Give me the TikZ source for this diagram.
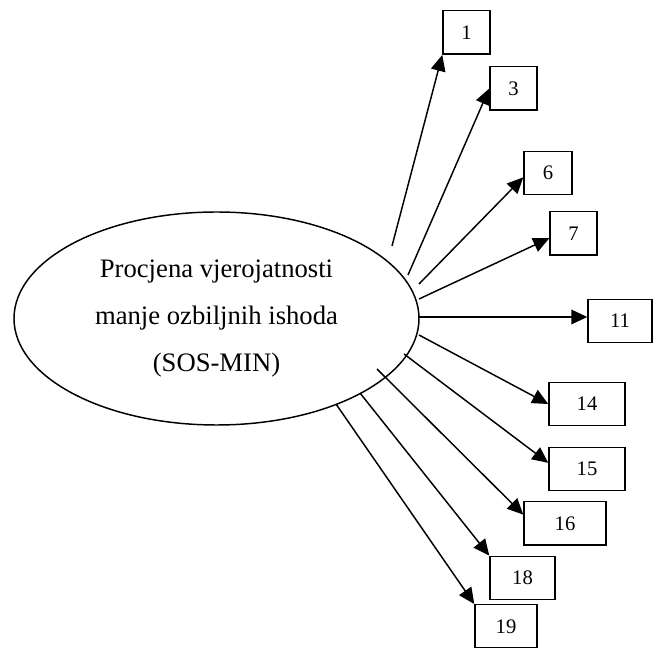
\documentclass[tikz,border=0pt]{standalone}
\usepackage{fontspec}
\setmainfont{Liberation Serif}
\usetikzlibrary{arrows.meta,shapes.geometric}

\tikzset{every picture/.style={line width=1.1pt}}
\tikzset{
  itembox/.style={draw, rectangle, inner sep=0pt, minimum height=32.6pt, font=\fontsize{15.5}{18}\selectfont},
  factor/.style={draw, ellipse, inner sep=0pt, minimum width=303.75pt, minimum height=159.75pt, align=center, font=\fontsize{20}{35.25}\selectfont},
  loading/.style={-{Triangle[length=12pt,width=11pt]}}
}

\begin{document}
\begin{tikzpicture}[x=0.75pt,y=0.75pt,yscale=-1,xscale=1]
\useasboundingbox (0,0) rectangle (654,648);

%Shape: Ellipse
\node [factor] (sosmin) at (216.5,318.5) {Procjena vjerojatnosti\\manje ozbiljnih ishoda\\(SOS-MIN)};

%Shape: Rectangles
\node [itembox, minimum width=35.25pt] (b1) at (466.5,32.5) {1};
\node [itembox, minimum width=35.25pt] (b3) at (513.5,88.5) {3};
\node [itembox, minimum width=36pt] (b6) at (548,173) {6};
\node [itembox, minimum width=35.25pt] (b7) at (573.5,233.5) {7};
\node [itembox, minimum width=48pt] (b11) at (620,321) {11};
\node [itembox, minimum width=57pt] (b14) at (587,404) {14};
\node [itembox, minimum width=57pt] (b15) at (587,469) {15};
\node [itembox, minimum width=61.5pt] (b16) at (565,523.5) {16};
\node [itembox, minimum width=48.75pt] (b18) at (522.5,578) {18};
\node [itembox, minimum width=46.5pt] (b19) at (506,626.5) {19};

%Start points of the lines
\coordinate (s1) at (392,246);
\coordinate (s3) at (408,275);
\coordinate (s6) at (419,284);
\coordinate (s7) at (419,299);
\coordinate (s11) at (419,317);
\coordinate (s14) at (419,335);
\coordinate (s15) at (404,354);
\coordinate (s16) at (377,369);
\coordinate (s18) at (360,393);
\coordinate (s19) at (336,404);

%Straight Lines
\draw [loading] (s1) -- (b1.south west);
\draw [loading] (s3) -- (b3.west);
\draw [loading] (s6) -- (b6.190);
\draw [loading] (s7) -- (b7.191);
\draw [loading] (s11) -- (s11 -| b11.west);
\draw [loading] (s14) -- (b14.west);
\draw [loading] (s15) -- (b15.171);
\draw [loading] (s16) -- (b16.168);
\draw [loading] (s18) -- (b18.north west);
\draw [loading] (s19) -- (b19.north west);

\end{tikzpicture}
\end{document}
